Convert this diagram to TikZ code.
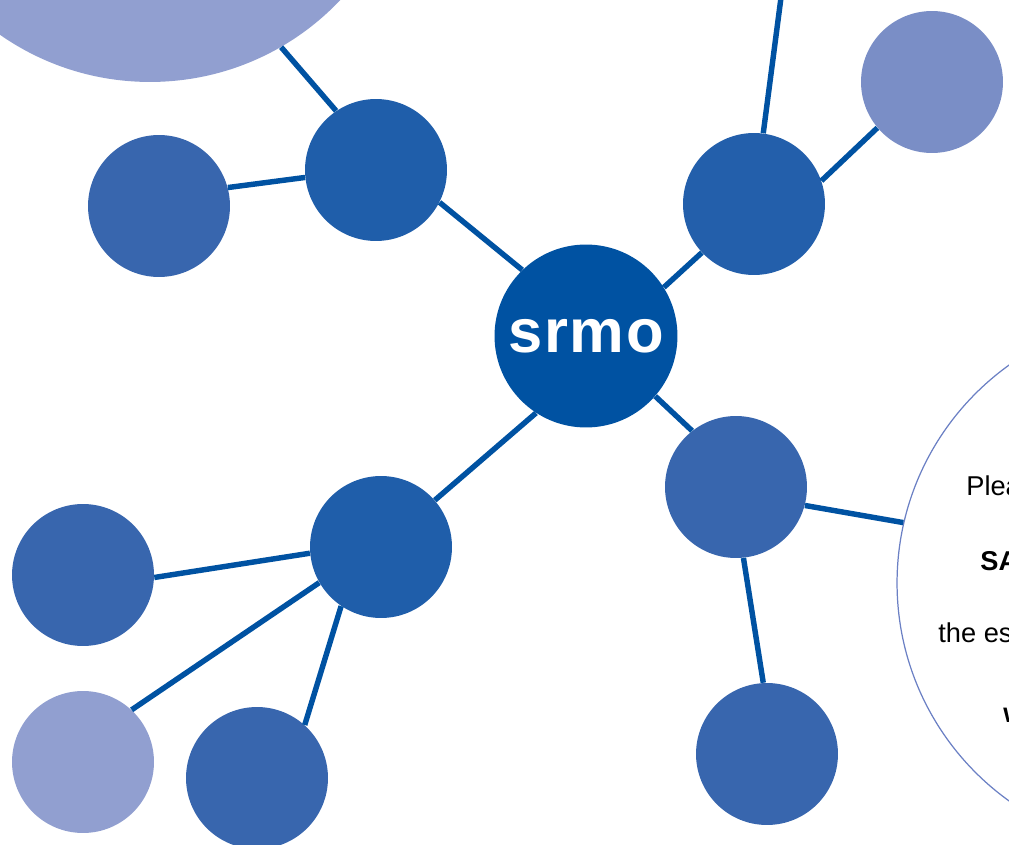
\documentclass[tikz,border=0pt]{standalone}
\usepackage{fontspec}
\setmainfont{Liberation Sans}
\usepackage{xcolor}
\definecolor{srmoblue}{HTML}{0052A2}
\definecolor{darkblue}{HTML}{1F5EAA}
\definecolor{midblue}{HTML}{3866AE}
\definecolor{lightblue}{HTML}{919FD0}
\definecolor{paleblue}{HTML}{7A8EC6}
\definecolor{rimblue}{HTML}{6B80C4}

\begin{document}
\begin{tikzpicture}[x=0.02cm,y=-0.02cm,
  nd/.style={circle,inner sep=0pt,minimum size=2.84cm},
  link/.style={draw=srmoblue,line width=3.1pt},
  txt/.style={anchor=base west,inner sep=0pt,font=\fontsize{15.5}{17}\selectfont}]
\useasboundingbox (0,0) rectangle (1009,845);
\clip (0,0) rectangle (1009,845);
% circles
\node[circle,inner sep=0pt,minimum size=10.48cm,fill=lightblue] (big) at (150,-180){};
\node[circle,inner sep=0pt,minimum size=10.72cm,draw=rimblue,line width=0.7pt] (info) at (1165,583){};
\node[circle,inner sep=0pt,minimum size=3.66cm,fill=srmoblue,text=white,
  font=\bfseries\fontsize{35}{35}\selectfont\addfontfeature{LetterSpace=3}] (srmo) at (586,336){srmo};
\node[nd,fill=darkblue] (a) at (376,170){};
\node[nd,fill=midblue] (b) at (159,206){};
\node[nd,fill=darkblue!85!midblue] (c) at (754,204){};
\node[nd,fill=paleblue] (d) at (932,82){};
\node[nd,fill=midblue] (e) at (736,487){};
\node[nd,fill=midblue] (f) at (767,754){};
\node[nd,fill=darkblue] (g) at (381,547){};
\node[nd,fill=midblue] (h) at (83,575){};
\node[nd,fill=lightblue] (i) at (83,762){};
\node[nd,fill=midblue] (j) at (257,778){};
\coordinate (top) at (782,-10);
% links
\draw[link] (srmo.134) -- (a.-27); \draw[link] (srmo.32) -- (c.223);
\draw[link] (srmo.-41) -- (e.128); \draw[link] (srmo.237) -- (g.41);
\draw[link] (a.124) -- (big.-60); \draw[link] (a.186) -- (b.15);
\draw[link] (c) -- (top); \draw[link] (c.19) -- (d.220);
\draw[link] (e.-15) -- (info.167); \draw[link] (e.-84) -- (f.93);
\draw[link] (g.185) -- (h.-2); \draw[link] (g.210) -- (i.47);
\draw[link] (g.236) -- (j.48);
% text in the big circle
\node[txt] (t1) at (966,495){Plea};
\node[txt,font=\bfseries\fontsize{15.5}{17}\selectfont] (t2) at (980,570){SA};
\node[txt] (t3) at (938,642){the es};
\node[txt,font=\bfseries\fontsize{15.5}{17}\selectfont] (t4) at (1003,722){w};
\end{tikzpicture}
\end{document}
